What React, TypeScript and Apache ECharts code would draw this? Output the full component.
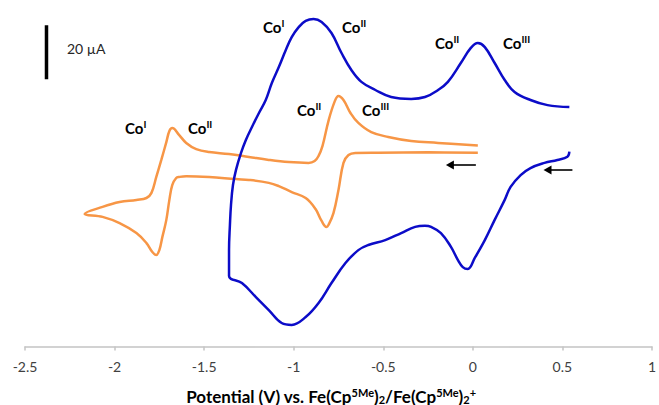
import React, { useEffect, useRef } from "react";
import * as echarts from "echarts";

// Potential axis (V vs. Fe(Cp5Me)2/Fe(Cp5Me)2+)
const xMin = -2.5;
const xMax = 1;
const xStep = 0.5;

// Current axis (µA, offset only; no labels shown)
const yMin = 0;
const yMax = 125;

// Orange voltammogram: [potential V, current µA], scan starts near 0 V going negative
const orangeCV: [number, number][] = [
  [0.028, 71.8], [-0.25, 71.9], [-0.528, 71.8], [-0.656, 71.7], [-0.694, 70.9],
  [-0.722, 68.0], [-0.75, 58.0], [-0.778, 49.4], [-0.806, 45.0], [-0.817, 44.3],
  [-0.844, 46.5], [-0.878, 50.9], [-0.933, 55.0], [-1.011, 57.2], [-1.083, 59.4],
  [-1.139, 60.6], [-1.25, 61.7], [-1.322, 62.0], [-1.472, 62.8], [-1.6, 63.1],
  [-1.639, 62.8], [-1.656, 62.4], [-1.678, 59.8], [-1.694, 54.3], [-1.711, 46.9],
  [-1.733, 40.6], [-1.75, 35.7], [-1.767, 33.9], [-1.789, 35.0], [-1.822, 38.3],
  [-1.878, 42.0], [-1.972, 45.7], [-2.067, 48.0], [-2.167, 49.1], [-2.067, 51.7],
  [-1.972, 53.5], [-1.878, 54.3], [-1.822, 55.0], [-1.794, 56.9], [-1.767, 62.8],
  [-1.739, 69.1], [-1.711, 75.7], [-1.694, 79.8], [-1.678, 80.9], [-1.639, 78.3],
  [-1.6, 75.4], [-1.544, 73.1], [-1.472, 72.0], [-1.361, 71.3], [-1.25, 70.2],
  [-1.139, 69.1], [-1.028, 68.3], [-0.917, 68.0], [-0.883, 68.7], [-0.861, 70.6],
  [-0.839, 74.3], [-0.806, 83.5], [-0.772, 90.6], [-0.75, 92.8], [-0.722, 91.3],
  [-0.683, 86.5], [-0.639, 82.8], [-0.567, 79.4], [-0.472, 77.6], [-0.344, 76.1],
  [-0.194, 75.4], [0.028, 74.4],
];

// Blue voltammogram: [potential V, current µA], scan starts near 0.54 V going negative
const blueCV: [number, number][] = [
  [0.539, 72.2], [0.528, 70.3], [0.472, 69.1], [0.4, 68.0], [0.322, 66.1],
  [0.267, 63.5], [0.211, 59.1], [0.178, 54.3], [0.122, 46.9], [0.067, 39.4],
  [0.011, 32.8], [-0.028, 28.7], [-0.056, 29.4], [-0.083, 32.0], [-0.122, 36.9],
  [-0.178, 42.0], [-0.233, 44.3], [-0.267, 44.7], [-0.322, 44.3], [-0.4, 42.0],
  [-0.489, 39.4], [-0.583, 37.6], [-0.639, 35.7], [-0.711, 30.9], [-0.789, 23.5],
  [-0.861, 16.1], [-0.933, 10.9], [-1.011, 8.0], [-1.067, 8.7], [-1.139, 13.5],
  [-1.211, 18.3], [-1.289, 23.5], [-1.361, 26.1], [-1.361, 35.7], [-1.356, 45.0],
  [-1.35, 52.4], [-1.339, 59.8], [-1.322, 65.4], [-1.294, 71.7], [-1.267, 76.5],
  [-1.233, 81.3], [-1.194, 86.5], [-1.156, 91.3], [-1.122, 97.6], [-1.083, 103.5],
  [-1.044, 109.8], [-1.011, 114.6], [-0.972, 118.3], [-0.933, 120.6], [-0.889, 121.3],
  [-0.844, 120.2], [-0.789, 116.1], [-0.733, 108.7], [-0.678, 102.4], [-0.622, 98.0],
  [-0.544, 95.0], [-0.456, 92.4], [-0.344, 91.7], [-0.267, 92.4], [-0.194, 95.0],
  [-0.139, 98.0], [-0.067, 105.0], [-0.011, 110.6], [0.028, 112.4], [0.067, 110.9],
  [0.122, 105.0], [0.178, 98.7], [0.233, 94.3], [0.322, 91.3], [0.417, 89.4],
  [0.539, 88.7],
];

// 20 µA scale bar: [potential, current] endpoints
const scaleBar: [number, number][] = [
  [-2.38, 99],
  [-2.38, 119],
];
const scaleBarText = "20 \u00b5A";

// Scan-direction arrows: [start, end] in [potential, current]
const orangeArrow: [number, number][] = [
  [0.017, 67.2],
  [-0.128, 67.2],
];
const blueArrow: [number, number][] = [
  [0.556, 65.4],
  [0.417, 65.4],
];

// Redox couple labels: base text, superscript, position (px)
const redoxLabels: { base: string; sup: string; x: number; y: number }[] = [
  { base: "Co", sup: "I", x: 125, y: 128 },
  { base: "Co", sup: "II", x: 188, y: 128 },
  { base: "Co", sup: "II", x: 297, y: 110 },
  { base: "Co", sup: "III", x: 362, y: 110 },
  { base: "Co", sup: "I", x: 263, y: 27 },
  { base: "Co", sup: "II", x: 342, y: 27 },
  { base: "Co", sup: "II", x: 435, y: 43 },
  { base: "Co", sup: "III", x: 503, y: 43 },
];

const ORANGE = "#f79646";
const BLUE = "#0c0cc8";
const FONT = "Lato, 'Open Sans', sans-serif";
const TEXT = "#262626";

export default function App() {
  const ref = useRef<HTMLDivElement>(null);

  useEffect(() => {
    if (!ref.current) return;
    const chart = echarts.init(ref.current, undefined, { renderer: "svg" });

    const arrowSeries = (pts: [number, number][]) => ({
      type: "line",
      data: [],
      silent: true,
      markLine: {
        silent: true,
        symbol: ["none", "triangle"],
        symbolSize: [9, 8],
        symbolRotate: 90,
        label: { show: false },
        lineStyle: { color: "#000", width: 1.6, type: "solid" },
        emphasis: { disabled: true },
        data: [[{ coord: pts[0] }, { coord: pts[1] }]],
      },
    });

    const supRich = {
      co: {
        fontFamily: FONT,
        fontWeight: "bold",
        fontSize: 15,
        lineHeight: 18,
        color: TEXT,
      },
      s: {
        fontFamily: FONT,
        fontWeight: "bold",
        fontSize: 10,
        lineHeight: 10,
        verticalAlign: "top",
        color: TEXT,
      },
    };

    const labelGraphics = redoxLabels.map((l) => ({
      type: "text",
      x: l.x,
      y: l.y,
      silent: true,
      style: {
        text: `{co|${l.base}}{s|${l.sup}}`,
        rich: supRich,
        verticalAlign: "middle",
        align: "left",
      },
    }));

    const titleRich = {
      b: {
        fontFamily: FONT,
        fontWeight: "bold",
        fontSize: 17,
        lineHeight: 18,
        color: TEXT,
      },
      sup: {
        fontFamily: FONT,
        fontWeight: "bold",
        fontSize: 11,
        lineHeight: 10,
        verticalAlign: "top",
        color: TEXT,
      },
      sub: {
        fontFamily: FONT,
        fontWeight: "bold",
        fontSize: 11,
        lineHeight: 10,
        verticalAlign: "bottom",
        color: TEXT,
      },
    };

    chart.setOption({
      animation: false,
      backgroundColor: "#ffffff",
      grid: { left: 25, right: 4, top: 9, bottom: 58.5, containLabel: false },
      xAxis: {
        type: "value",
        min: xMin,
        max: xMax,
        interval: xStep,
        axisLine: { show: true, lineStyle: { color: "#c4c4c4", width: 1.5 } },
        axisTick: { show: true, inside: false, length: 4, lineStyle: { color: "#c4c4c4", width: 1.5 } },
        splitLine: { show: false },
        axisLabel: {
          fontFamily: FONT,
          fontSize: 14,
          color: "#404040",
          margin: 13,
        },
      },
      yAxis: {
        type: "value",
        min: yMin,
        max: yMax,
        show: false,
        splitLine: { show: false },
      },
      series: [
        {
          type: "line",
          name: "orange",
          data: orangeCV,
          showSymbol: false,
          smooth: 0.4,
          lineStyle: { color: ORANGE, width: 2.5 },
          silent: true,
        },
        {
          type: "line",
          name: "blue",
          data: blueCV,
          showSymbol: false,
          smooth: 0.4,
          lineStyle: { color: BLUE, width: 2.5 },
          silent: true,
        },
        {
          type: "line",
          name: "scale",
          data: scaleBar,
          showSymbol: false,
          lineStyle: { color: "#000", width: 3.5 },
          silent: true,
        },
        arrowSeries(orangeArrow),
        arrowSeries(blueArrow),
      ],
      graphic: [
        {
          type: "text",
          x: 67,
          y: 48,
          silent: true,
          style: {
            text: scaleBarText,
            fontFamily: FONT,
            fontSize: 14,
            fill: TEXT,
            verticalAlign: "middle",
            align: "left",
          },
        },
        ...labelGraphics,
        {
          type: "text",
          x: 331,
          y: 396,
          silent: true,
          style: {
            text:
              "{b|Potential (V) vs. Fe(Cp}{sup|5Me}{b|)}{sub|2}{b|/Fe(Cp}{sup|5Me}{b|)}{sub|2}{sup|+}",
            rich: titleRich,
            align: "center",
            verticalAlign: "middle",
          },
        },
      ],
    });

    return () => chart.dispose();
  }, []);

  return (
    <div
      ref={ref}
      style={{ position: "fixed", left: 0, top: 0, width: 659, height: 405 }}
    />
  );
}
